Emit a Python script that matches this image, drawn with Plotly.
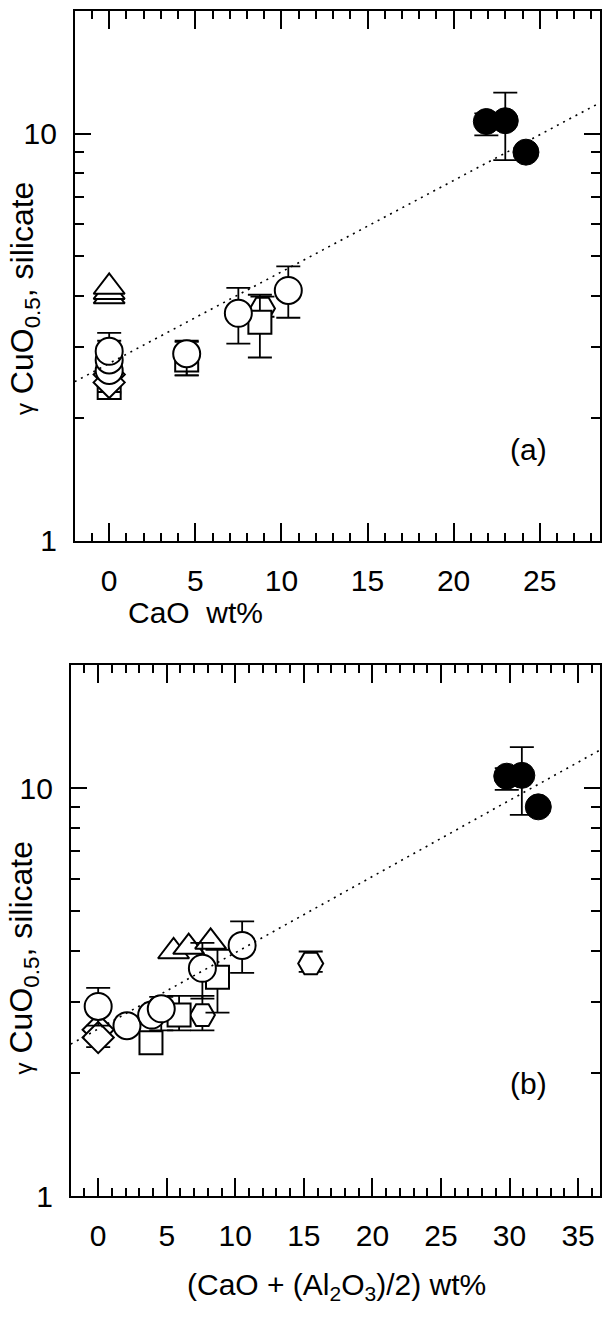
import plotly.graph_objects as go

# ---------------- data ----------------
# open circles
circ_xa = [0, 0, 0, 4.5, 7.5, 10.4]
circ_xb = [2.1, 3.9, 0, 4.6, 7.6, 10.5]
circ_y = [2.62, 2.78, 2.92, 2.88, 3.62, 4.12]
circ_hi = [2.62, 2.78, 3.24, 3.08, 4.18, 4.72]
circ_lo = [2.62, 2.78, 2.62, 2.55, 3.05, 3.53]

# open squares
sq_xa = [0, 4.5, 8.75]
sq_xb = [3.85, 5.9, 8.7]
sq_y = [2.38, 2.78, 3.44]
sq_hi = [2.45, 3.10, 4.02]
sq_lo = [2.30, 2.55, 2.82]

# open diamonds
dia_xa = [0, 0]
dia_xb = [0, 0]
dia_y = [2.56, 2.45]
dia_hi = [2.56, 2.45]
dia_lo = [2.56, 2.32]

# open triangles
tri_xa = [0, 0, 0]
tri_xb = [5.5, 6.6, 8.2]
tri_y = [3.98, 4.08, 4.20]

# open hexagons
hex_xa = [0, 8.9]
hex_xb = [7.6, 15.5]
hex_y = [2.78, 3.72]
hex_hi = [3.10, 3.98]
hex_lo = [2.55, 3.55]

# filled circles
fc_xa = [21.9, 23.0, 24.2]
fc_xb = [29.8, 30.9, 32.1]
fc_y = [10.7, 10.75, 9.0]
fc_hi = [11.2, 12.6, 9.0]
fc_lo = [9.9, 8.6, 9.0]

# regression lines (end points)
fit_xa = [-2, 28.5]
fit_ya = [2.46, 11.9]
fit_xb = [-2, 36.6]
fit_yb = [2.36, 12.4]

FONT = "Liberation Sans, Arial, Helvetica, sans-serif"
W, H = 602, 1318


def err(y, hi, lo):
    return dict(type="data", symmetric=False,
                array=[h - v for h, v in zip(hi, y)],
                arrayminus=[v - l for v, l in zip(y, lo)],
                color="black", thickness=1.8, width=12)


fig = go.Figure()


def add_panel(xs, xax, yax):
    (cx, sx, dx, tx, hx, fx, lx, ly) = xs
    fig.add_trace(go.Scatter(x=hx, y=hex_y, mode="markers", xaxis=xax, yaxis=yax,
                             marker=dict(symbol="hexagon2", size=25, color="white",
                                         line=dict(color="black", width=2)),
                             error_y=err(hex_y, hex_hi, hex_lo), showlegend=False))
    fig.add_trace(go.Scatter(x=sx, y=sq_y, mode="markers", xaxis=xax, yaxis=yax,
                             marker=dict(symbol="square", size=23, color="white",
                                         line=dict(color="black", width=2)),
                             error_y=err(sq_y, sq_hi, sq_lo), showlegend=False))
    fig.add_trace(go.Scatter(x=dx, y=dia_y, mode="markers", xaxis=xax, yaxis=yax,
                             marker=dict(symbol="diamond", size=24, color="white",
                                         line=dict(color="black", width=2)),
                             error_y=err(dia_y, dia_hi, dia_lo), showlegend=False))
    fig.add_trace(go.Scatter(x=tx, y=tri_y, mode="markers", xaxis=xax, yaxis=yax,
                             marker=dict(symbol="triangle-up", size=27, color="white",
                                         line=dict(color="black", width=2)),
                             showlegend=False))
    fig.add_trace(go.Scatter(x=cx, y=circ_y, mode="markers", xaxis=xax, yaxis=yax,
                             marker=dict(symbol="circle", size=27, color="white",
                                         line=dict(color="black", width=2)),
                             error_y=err(circ_y, circ_hi, circ_lo), showlegend=False))
    fig.add_trace(go.Scatter(x=fx, y=fc_y, mode="markers", xaxis=xax, yaxis=yax,
                             marker=dict(symbol="circle", size=26, color="black",
                                         line=dict(color="black", width=1)),
                             error_y=err(fc_y, fc_hi, fc_lo), showlegend=False))
    fig.add_trace(go.Scatter(x=lx, y=ly, mode="lines", xaxis=xax, yaxis=yax,
                             line=dict(color="black", width=1.6, dash="2px,5px"),
                             showlegend=False))


add_panel((circ_xa, sq_xa, dia_xa, tri_xa, hex_xa, fc_xa, fit_xa, fit_ya), "x", "y")
add_panel((circ_xb, sq_xb, dia_xb, tri_xb, hex_xb, fc_xb, fit_xb, fit_yb), "x2", "y2")

tickfont = dict(family=FONT, size=30, color="black")


def xaxis(dom, rng, anchor):
    return dict(domain=dom, range=rng, anchor=anchor, showline=True, linecolor="black",
                linewidth=1.8, mirror="ticks", ticks="inside", ticklen=18, tickwidth=1.6,
                tickcolor="black", tickmode="array", tickvals=[0, 5, 10, 15, 20, 25, 30, 35],
                showgrid=False, zeroline=False, tickfont=tickfont, ticklabelstandoff=12,
                minor=dict(ticks="inside", ticklen=8, tickwidth=1.6, tickcolor="black",
                           dtick=1, tick0=0, showgrid=False))


def yaxis(dom, anchor):
    return dict(domain=dom, type="log", range=[0, 1.30103], anchor=anchor, showline=True,
                linecolor="black", linewidth=1.8, mirror="ticks", ticks="inside",
                ticklen=16, tickwidth=1.6, tickcolor="black", tickmode="array",
                tickvals=[1, 10], ticktext=["1", "10"], showgrid=False, zeroline=False,
                tickfont=tickfont, ticklabelstandoff=10,
                minor=dict(ticks="inside", ticklen=9, tickwidth=1.6, tickcolor="black",
                           tickmode="array", tickvals=[2, 3, 4, 5, 6, 7, 8, 9],
                           showgrid=False))


def py(p):
    return 1 - p / H


fig.update_layout(
    width=W, height=H, margin=dict(l=0, r=0, t=0, b=0),
    paper_bgcolor="white", plot_bgcolor="white",
    xaxis=xaxis([75 / W, 1.0], [-2, 28.5], "y"),
    yaxis=yaxis([py(548), py(11)], "x"),
    xaxis2=xaxis([71 / W, 1.0], [-2, 36.6], "y2"),
    yaxis2=yaxis([py(1212), py(674)], "x2"),
    font=dict(family=FONT, color="black"),
)

ytitle = "<span style='font-size:24px'>γ</span> CuO<sub>0.5</sub>, silicate"
ann = [
    dict(text=ytitle, x=24 / W, y=py(302), textangle=-90),
    dict(text=ytitle, x=24 / W, y=py(970), textangle=-90),
    dict(text="CaO  wt%", x=196 / W, y=py(621)),
    dict(text="(CaO + (Al<sub>2</sub>O<sub>3</sub>)/2) wt%", x=338 / W, y=py(1303)),
    dict(text="(a)", x=530 / W, y=py(455)),
    dict(text="(b)", x=530 / W, y=py(1098)),
]
for a in ann:
    sz = 32 if a.get("textangle") == -90 else 30
    fig.add_annotation(xref="paper", yref="paper", showarrow=False,
                       xanchor="center", yanchor="middle",
                       font=dict(family=FONT, size=sz, color="black"), **a)

fig.write_html("out.html")
